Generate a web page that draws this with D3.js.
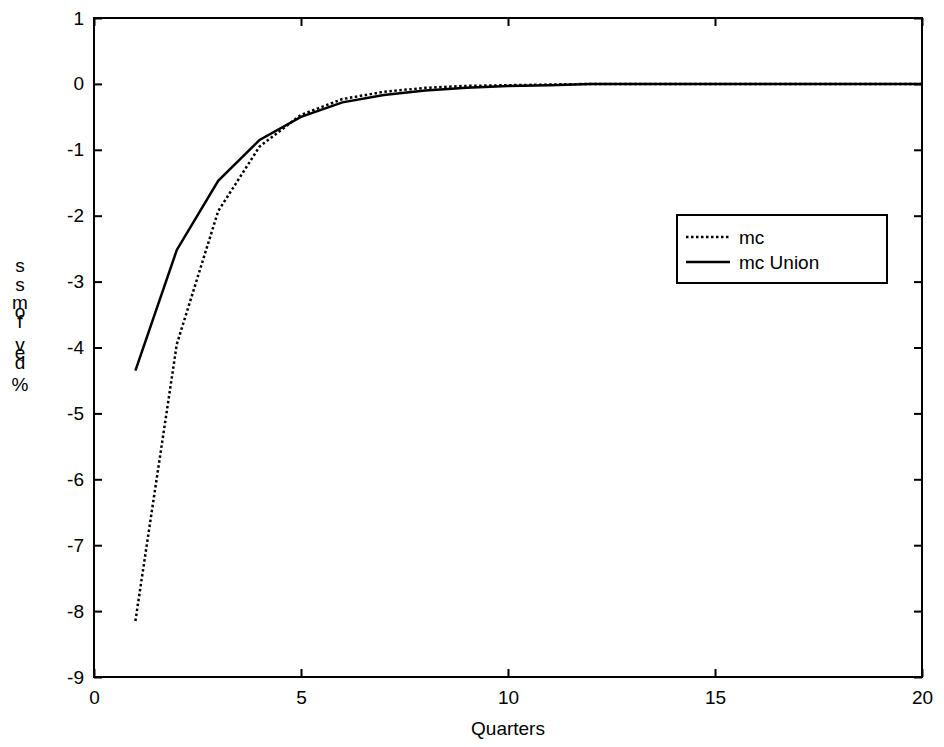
<!DOCTYPE html>
<html><head><meta charset="utf-8">
<script src="https://cdn.jsdelivr.net/npm/d3@7"></script>
<style>body{margin:0;background:#fff}text{font-family:Arial,"Liberation Sans",sans-serif}</style>
</head><body><svg id="c" width="944" height="747"></svg>
<script>
const quarters = d3.range(1, 21);
const mc = [-8.15,-3.95,-1.93,-0.95,-0.47,-0.23,-0.12,-0.06,-0.03,-0.02,-0.01,0,0,0,0,0,0,0,0,0];
const mcUnion = [-4.35,-2.52,-1.47,-0.85,-0.50,-0.28,-0.17,-0.10,-0.06,-0.03,-0.02,0,0,0,0,0,0,0,0,0];
const xTicks = [0,5,10,15,20];
const yTicks = d3.range(-9, 2);
const yLabelChars = [["s",265],["s",284],["m",302],["o",311],["f",321],["v",344],["e",352],["d",362],["%",384]];

const svg = d3.select("#c");
const x = d3.scaleLinear().domain([0,20]).range([94,922]);
const y = d3.scaleLinear().domain([-9,1]).range([677,18]);

svg.append("rect").attr("x",94).attr("y",18).attr("width",828).attr("height",659)
  .attr("fill","none").attr("stroke","#000").attr("stroke-width",2);

svg.append("g").attr("transform","translate(0,677)")
  .call(d3.axisBottom(x).tickValues(xTicks).tickSize(-8).tickPadding(14));
svg.append("g").attr("transform","translate(94,0)")
  .call(d3.axisLeft(y).tickValues(yTicks).tickSize(-8).tickPadding(10).tickFormat(d => String(d)));
svg.append("g").attr("transform","translate(0,18)")
  .call(d3.axisTop(x).tickValues(xTicks).tickSize(-8).tickFormat(""));
svg.append("g").attr("transform","translate(922,0)")
  .call(d3.axisRight(y).tickValues(yTicks).tickSize(-8).tickFormat(""));
svg.selectAll(".domain").remove();
svg.selectAll(".tick line").attr("stroke","#000").attr("stroke-width",2);
svg.selectAll(".tick text").attr("font-size",19).attr("fill","#000")
  .style("font-family","Arial, 'Liberation Sans', sans-serif");

svg.append("text").attr("x",508).attr("y",735).attr("text-anchor","middle")
  .attr("font-size",19).text("Quarters");
svg.selectAll(".yl").data(yLabelChars).enter().append("text")
  .attr("x",20).attr("y",d=>d[1]+7).attr("text-anchor","middle").attr("font-size",19).text(d=>d[0]);

const line = d3.line().x((d,i)=>x(quarters[i])).y(d=>y(d));
svg.append("path").datum(mc).attr("d",line).attr("fill","none").attr("stroke","#000")
  .attr("stroke-width",2.5).attr("stroke-dasharray","2.5,2.5");
svg.append("path").datum(mcUnion).attr("d",line).attr("fill","none").attr("stroke","#000")
  .attr("stroke-width",2.5);

const lg = svg.append("g");
lg.append("rect").attr("x",677).attr("y",215).attr("width",210).attr("height",68)
  .attr("fill","#fff").attr("stroke","#000").attr("stroke-width",2);
[["mc","2.5,2.5",237],["mc Union",null,262]].forEach(([t,da,yy])=>{
  lg.append("line").attr("x1",686).attr("x2",730).attr("y1",yy).attr("y2",yy)
    .attr("stroke","#000").attr("stroke-width",2.5).attr("stroke-dasharray",da);
  lg.append("text").attr("x",739).attr("y",yy+7).attr("font-size",19).text(t);
});
</script></body></html>
